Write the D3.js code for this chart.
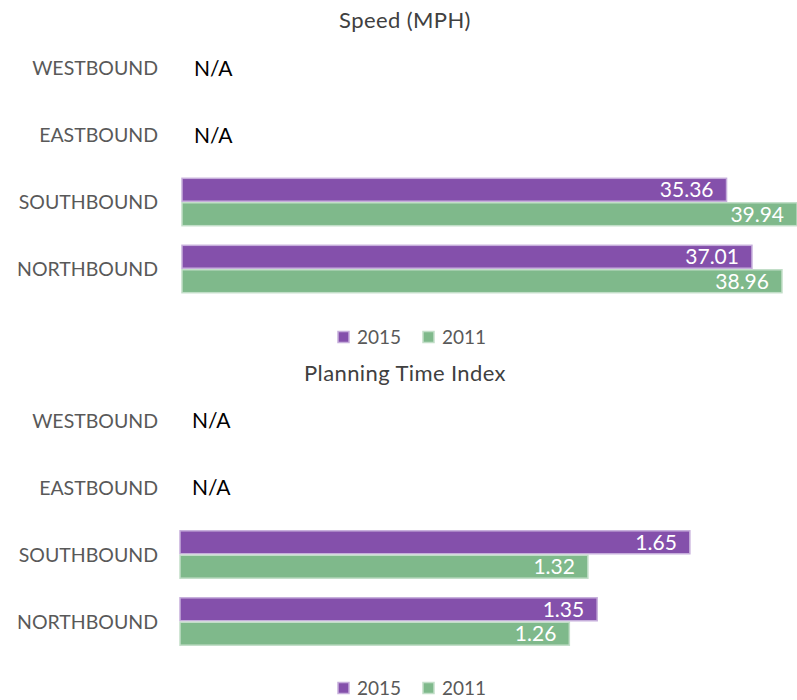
<!DOCTYPE html>
<html>
<head>
<meta charset="utf-8">
<script src="https://cdn.jsdelivr.net/npm/d3@7"></script>
<style>
  body { margin: 0; background: #fff; }
  svg text { font-family: Lato, "Open Sans", sans-serif; }
</style>
</head>
<body>
<svg id="chart" width="797" height="700"></svg>
<script>
 var categories = ["WESTBOUND", "EASTBOUND", "SOUTHBOUND", "NORTHBOUND"];
 var series = ["2015", "2011"];
 var speed2015 = [null, null, 35.36, 37.01];
 var speed2011 = [null, null, 39.94, 38.96];
 var pti2015 = [null, null, 1.65, 1.35];
 var pti2011 = [null, null, 1.32, 1.26];
 var speedDomain = [0, 40];
 var ptiDomain = [0, 2];

 (function () {
  var svg = d3.select("svg#chart");
  var fills = {"2015": "#8450ab", "2011": "#7fb98b"},
      strokes = {"2015": "#c6aedb", "2011": "#c2dec8"};

  function drawPanel(o) {
      var g = svg.append("g").attr("transform", "translate(0," + o.top + ")");
      var x = d3.scaleLinear().domain(o.domain).range([o.left, 798]);
      var y = d3.scaleBand().domain(categories)
                .range([34.5, 302.5]).paddingInner(0.27).paddingOuter(0.135);
      var ys = d3.scaleBand().domain(series).range([0, y.bandwidth()]);

      g.append("text").attr("x", 405).attr("y", 28)
       .attr("text-anchor", "middle").attr("fill", "#404040")
       .style("font-size", "22px").style("letter-spacing", "0.4px").text(o.title);

      // category labels
      g.selectAll(".cat").data(categories).enter().append("text")
       .attr("x", 158).attr("y", d => y(d) + y.bandwidth()/2)
       .attr("dy", "0.36em").attr("text-anchor", "end")
       .attr("fill", "#595959").style("font-size", "19.5px")
       .text(d => d);

      var rows = categories.map((c, i) => ({cat: c, vals: [o.values[0][i], o.values[1][i]]}));
      rows.forEach(function (r) {
          if (r.vals[0] == null && r.vals[1] == null) {
              g.append("text").attr("x", x(0) + 12)
               .attr("y", y(r.cat) + y.bandwidth()/2).attr("dy", "0.36em")
               .attr("fill", "#000").style("font-size", "21px").text("N/A");
              return;
          }
          series.forEach(function (s, k) {
              var v = r.vals[k];
              var yy = y(r.cat) + ys(s);
              g.append("rect").attr("x", x(0)).attr("y", yy + 0.75)
               .attr("width", x(v) - x(0)).attr("height", ys.bandwidth() - 1.5)
               .attr("fill", fills[s]).attr("stroke", strokes[s]).attr("stroke-width", 1.5);
              g.append("text").attr("x", x(v) - 13)
               .attr("y", yy + ys.bandwidth()/2).attr("dy", "0.36em")
               .attr("text-anchor", "end").attr("fill", "#fff")
               .style("font-size", "21px").text(o.fmt(v));
          });
      });

      // legend
      var lg = g.append("g").attr("transform", "translate(0," + o.legendY + ")");
      var lx = [337, 422];
      series.forEach(function (s, k) {
          lg.append("rect").attr("x", lx[k] + 1).attr("y", -5.5).attr("width", 11).attr("height", 11)
            .attr("fill", fills[s]).attr("stroke", strokes[s]).attr("stroke-width", 1.5);
          lg.append("text").attr("x", lx[k] + 20).attr("y", 0).attr("dy", "0.36em")
            .attr("fill", "#595959").style("font-size", "19px").text(s);
      });
  }

  drawPanel({top: 0, title: "Speed (MPH)", domain: speedDomain, left: 182,
             values: [speed2015, speed2011], fmt: d3.format(".2f"), legendY: 337});
  drawPanel({top: 352.5, title: "Planning Time Index", domain: ptiDomain, left: 180,
             values: [pti2015, pti2011], fmt: d3.format(".2f"), legendY: 335.5});
 })();
</script>
</body>
</html>
